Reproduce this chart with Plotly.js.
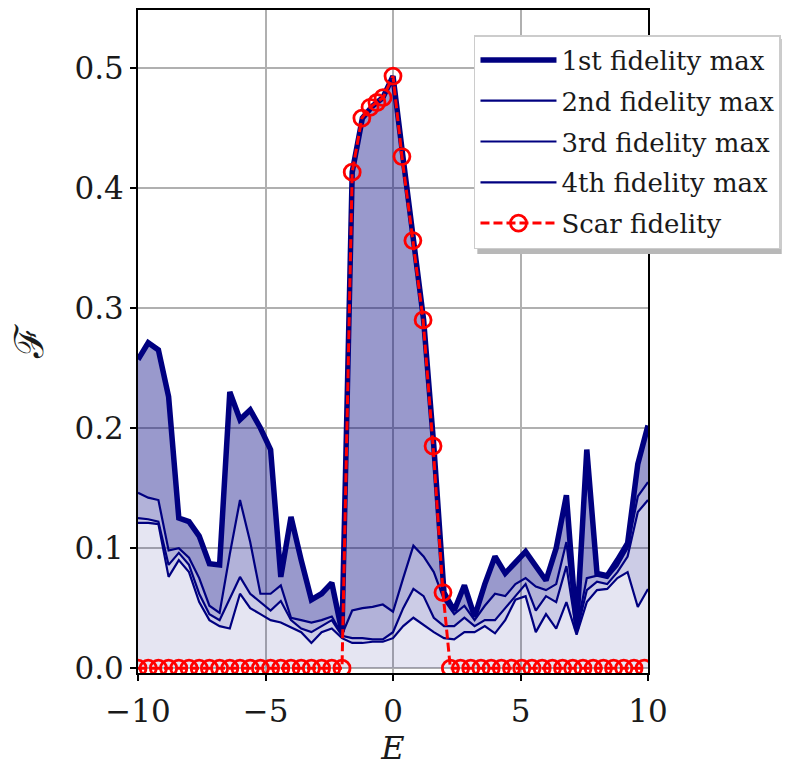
<!DOCTYPE html>
<html>
<head>
<meta charset="utf-8">
<script src="https://cdn.plot.ly/plotly-3.0.1.min.js"></script>
<style>html,body{margin:0;padding:0;background:#fff;}#chart{width:790px;height:770px;}</style>
</head>
<body>
<div id="chart"></div>
<script>
// Energy grid for fidelity maxima
const energy = [-10,-9.6,-9.2,-8.8,-8.4,-8.0,-7.6,-7.2,-6.8,-6.4,-6.0,-5.6,-5.2,-4.8,-4.4,-4.0,-3.6,-3.2,-2.8,-2.4,-2.0,
  -1.6,-1.2,-0.8,-0.4,0,0.4,0.8,1.2,1.6,2.0,2.4,2.8,3.2,3.6,4.0,4.4,4.8,5.2,5.6,6.0,6.4,6.8,7.2,7.6,8.0,8.4,8.8,9.2,9.6,10];

const fid1 = [0.257,0.271,0.265,0.226,0.125,0.122,0.110,0.087,0.086,0.230,0.207,0.215,0.200,0.182,0.076,0.126,0.090,0.057,0.062,0.071,0.030,
  0.413,0.458,0.468,0.475,0.493,0.424,0.355,0.290,0.185,0.063,0.048,0.069,0.043,0.070,0.093,0.079,0.088,0.097,0.085,0.073,0.100,0.144,0.033,0.182,0.079,0.077,0.090,0.104,0.170,0.202];

const fid2 = [0.146,0.142,0.140,0.098,0.100,0.092,0.075,0.052,0.046,0.095,0.140,0.105,0.062,0.062,0.069,0.042,0.040,0.038,0.040,0.043,0.028,
  0.048,0.050,0.051,0.053,0.047,0.075,0.102,0.093,0.080,0.057,0.045,0.052,0.040,0.052,0.062,0.060,0.070,0.075,0.068,0.065,0.070,0.105,0.032,0.075,0.077,0.075,0.085,0.100,0.143,0.155];

const fid3 = [0.125,0.124,0.122,0.086,0.096,0.086,0.062,0.045,0.040,0.058,0.076,0.062,0.055,0.048,0.056,0.040,0.033,0.030,0.035,0.040,0.027,
  0.025,0.025,0.024,0.024,0.030,0.050,0.066,0.060,0.042,0.035,0.035,0.042,0.035,0.040,0.040,0.050,0.060,0.070,0.048,0.060,0.055,0.085,0.030,0.065,0.072,0.070,0.080,0.093,0.130,0.140];

const fid4 = [0.121,0.121,0.120,0.076,0.090,0.080,0.055,0.040,0.035,0.033,0.062,0.050,0.045,0.040,0.038,0.034,0.030,0.021,0.030,0.033,0.025,
  0.021,0.021,0.022,0.022,0.025,0.035,0.042,0.036,0.030,0.025,0.024,0.030,0.030,0.035,0.029,0.040,0.057,0.060,0.030,0.045,0.033,0.055,0.028,0.055,0.065,0.066,0.075,0.080,0.051,0.066];

// Scar states (energy, fidelity)
const scarE = [-10,-9.6,-9.2,-8.8,-8.4,-8.0,-7.6,-7.2,-6.8,-6.4,-6.0,-5.6,-5.2,-4.8,-4.4,-4.0,-3.6,-3.2,-2.8,-2.4,-2.0,
  -1.6,-1.22,-0.9,-0.63,-0.39,0,0.35,0.78,1.18,1.57,1.96,
  2.25,2.65,3.05,3.45,3.85,4.25,4.65,5.05,5.45,5.85,6.25,6.65,7.05,7.45,7.85,8.25,8.65,9.05,9.45,9.85];
const scarF = [0,0,0,0,0,0,0,0,0,0,0,0,0,0,0,0,0,0,0,0,0,
  0.413,0.458,0.467,0.471,0.475,0.493,0.426,0.356,0.290,0.185,0.063,
  0,0,0,0,0,0,0,0,0,0,0,0,0,0,0,0,0,0,0,0];

const seriesNames = ['1st fidelity max','2nd fidelity max','3rd fidelity max','4th fidelity max','Scar fidelity'];
const xTicks = [-10,-5,0,5,10];
const xTickText = ['\u221210','\u22125','0','5','10'];
const yTicks = [0,0.1,0.2,0.3,0.4,0.5];
const yTickText = ['0.0','0.1','0.2','0.3','0.4','0.5'];

const navy = '#000080';
const fills = [
  {y: fid4, fill: 'tozeroy', a: 0.1},
  {y: fid3, fill: 'tonexty', a: 0.2},
  {y: fid2, fill: 'tonexty', a: 0.3},
  {y: fid1, fill: 'tonexty', a: 0.4}
];
const traces = [];
fills.forEach(f => traces.push({
  x: energy, y: f.y, type: 'scatter', mode: 'lines', fill: f.fill,
  fillcolor: 'rgba(0,0,128,' + f.a + ')', line: {width: 0, color: navy},
  showlegend: false, hoverinfo: 'skip'
}));
const lineData = [fid1, fid2, fid3, fid4];
const widths = [5.5, 2.2, 2.2, 2.2];
lineData.forEach((d, i) => traces.push({
  x: energy, y: d, type: 'scatter', mode: 'lines', name: seriesNames[i],
  legendgroup: 'g' + i, line: {color: navy, width: widths[i]}
}));
traces.push({
  x: scarE, y: scarF, type: 'scatter', mode: 'lines+markers', name: seriesNames[4],
  legendgroup: 'g4',
  line: {color: '#ff0000', width: 3, dash: '9px,4px'},
  marker: {symbol: 'circle-open', size: 16, color: '#ff0000', line: {width: 2.8, color: '#ff0000'}}
});

const serif = 'DejaVu Serif';
const layout = {
  width: 790, height: 770,
  margin: {l: 138, r: 141, t: 10, b: 97},
  paper_bgcolor: '#ffffff', plot_bgcolor: '#ffffff',
  showlegend: true,
  xaxis: {
    range: [-10, 10], tickvals: xTicks, ticktext: xTickText,
    tickfont: {family: serif, size: 31, color: '#1a1a1a'},
    showgrid: true, gridcolor: '#b0b0b0', gridwidth: 2, zeroline: false,
    showline: true, linecolor: '#000', linewidth: 2, mirror: true,
    ticks: 'outside', ticklen: 6, tickwidth: 2, tickcolor: '#000',
    ticklabelstandoff: 4,
    title: {text: '<i>E</i>', font: {family: serif, size: 32, color: '#1a1a1a'}, standoff: 8}
  },
  yaxis: {
    range: [-0.004, 0.548], tickvals: yTicks, ticktext: yTickText,
    tickfont: {family: serif, size: 31, color: '#1a1a1a'},
    showgrid: true, gridcolor: '#b0b0b0', gridwidth: 2, zeroline: false,
    showline: true, linecolor: '#000', linewidth: 2, mirror: true,
    ticks: 'outside', ticklen: 6, tickwidth: 2, tickcolor: '#000',
    title: {text: '\u2131', font: {family: serif, size: 40, color: '#1a1a1a'}, standoff: 18}
  },
  legend: {
    x: 0.6575, y: (673 - 35) / 663, xanchor: 'left', yanchor: 'top',
    bgcolor: '#ffffff', bordercolor: '#cccccc', borderwidth: 1.5,
    font: {family: serif, size: 26, color: '#1a1a1a'},
    traceorder: 'grouped', tracegroupgap: 4, itemwidth: 76
  },
  shapes: [{
    type: 'rect', xref: 'paper', yref: 'paper', layer: 'above',
    x0: (478 - 138) / 511, x1: (783 - 138) / 511,
    y0: (673 - 254) / 663, y1: (673 - 39) / 663,
    fillcolor: '#b8b8b8', line: {width: 0}
  }]
};
Plotly.newPlot('chart', traces, layout, {displayModeBar: false, staticPlot: true});
</script>
</body>
</html>
